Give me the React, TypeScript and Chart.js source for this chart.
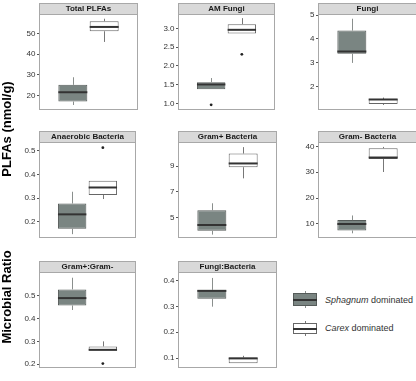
import { useEffect, useRef } from "react";
import { Chart, registerables } from "chart.js";

Chart.register(...registerables);

// ---- data -------------------------------------------------------------
const panelTitles = [
  "Total PLFAs",
  "AM Fungi",
  "Fungi",
  "Anaerobic Bacteria",
  "Gram+ Bacteria",
  "Gram- Bacteria",
  "Gram+:Gram-",
  "Fungi:Bacteria",
];

const groups = ["Sphagnum dominated", "Carex dominated"];

// five-number summaries, one value per panel
const sphagnumMin = [15.3, 1.38, 2.99, 0.147, 3.68, 6.4, 0.437, 0.299];
const sphagnumQ1 = [17.0, 1.38, 3.38, 0.17, 3.98, 7.5, 0.457, 0.33];
const sphagnumMedian = [21.5, 1.51, 3.47, 0.231, 4.43, 10.0, 0.489, 0.36];
const sphagnumQ3 = [25.1, 1.57, 4.35, 0.277, 5.57, 11.5, 0.527, 0.364];
const sphagnumMax = [28.8, 1.68, 4.85, 0.327, 6.12, 13.3, 0.578, 0.41];
const sphagnumOutliers: number[][] = [[], [0.97], [], [], [], [], [], []];

const carexMin = [46.0, 2.86, 1.22, 0.296, 8.06, 30.1, 0.26, 0.08];
const carexQ1 = [51.2, 2.86, 1.26, 0.313, 8.93, 35.1, 0.26, 0.08];
const carexMedian = [53.3, 2.96, 1.45, 0.345, 9.22, 35.7, 0.263, 0.099];
const carexQ3 = [56.1, 3.11, 1.47, 0.374, 9.99, 39.3, 0.278, 0.1025];
const carexMax = [57.3, 3.27, 1.53, 0.374, 10.49, 39.8, 0.3, 0.109];
const carexOutliers: number[][] = [[], [2.31], [], [0.514], [], [], [0.203], []];

const yTicks = [
  [20, 30, 40, 50],
  [1, 1.5, 2, 2.5, 3],
  [2, 3, 4, 5],
  [0.2, 0.3, 0.4, 0.5],
  [5, 7, 9],
  [10, 20, 30, 40],
  [0.2, 0.3, 0.4, 0.5],
  [0.1, 0.2, 0.3, 0.4],
];
const tickDecimals = [0, 1, 0, 1, 0, 0, 1, 1];
const yLimits = [
  [13.0, 59.6],
  [0.84, 3.38],
  [1.02, 5.05],
  [0.132, 0.538],
  [3.44, 10.89],
  [4.7, 41.7],
  [0.185, 0.603],
  [0.063, 0.433],
];

// ---- look -------------------------------------------------------------
const FONT = "'Liberation Sans', Arial, Helvetica, sans-serif";
const SPHAGNUM_FILL = "#7a8582";
const SPHAGNUM_LINE = "#555b59";
const SPHAGNUM_WHISKER = "#8a8f8d";
const CAREX_FILL = "#ffffff";
const CAREX_LINE = "#666666";
const CAREX_WHISKER = "#777777";
const MEDIAN_COLOR = "#333333";
const FRAME_COLOR = "#a8a8a8";
const STRIP_FILL = "#d9d9d9";

// ---- layout -----------------------------------------------------------
const COL_LEFT = [39, 178, 318];
const ROW_TOP = [3, 131, 261];
const PLOT_W = 99;
const PLOT_H = 100;
const STRIP_H = 11;
const AXIS_W = 32;

function Panel({ index }: { index: number }) {
  const ref = useRef<HTMLCanvasElement>(null);

  useEffect(() => {
    const canvas = ref.current;
    if (!canvas) return;

    const stats = [
      {
        min: sphagnumMin[index],
        q1: sphagnumQ1[index],
        med: sphagnumMedian[index],
        q3: sphagnumQ3[index],
        max: sphagnumMax[index],
        whisker: SPHAGNUM_WHISKER,
      },
      {
        min: carexMin[index],
        q1: carexQ1[index],
        med: carexMedian[index],
        q3: carexQ3[index],
        max: carexMax[index],
        whisker: CAREX_WHISKER,
      },
    ];

    const outlierPoints = [
      ...sphagnumOutliers[index].map((v) => ({ x: 0, y: v })),
      ...carexOutliers[index].map((v) => ({ x: 1, y: v })),
    ];

    const boxPlugin = {
      id: "boxWhiskers",
      beforeDraw(chart: any) {
        const { ctx, chartArea } = chart;
        ctx.save();
        ctx.fillStyle = STRIP_FILL;
        ctx.fillRect(chartArea.left, 0, chartArea.right - chartArea.left, chartArea.top);
        ctx.restore();
      },
      afterDatasetsDraw(chart: any) {
        const { ctx } = chart;
        const yScale = chart.scales.y;
        const meta = chart.getDatasetMeta(0);
        ctx.save();
        stats.forEach((s, i) => {
          const bar = meta.data[i];
          if (!bar) return;
          const { x, width } = bar.getProps(["x", "width"], true);
          const cx = Math.round(x) + 0.5;
          ctx.strokeStyle = s.whisker;
          ctx.lineWidth = 1;
          ctx.beginPath();
          ctx.moveTo(cx, yScale.getPixelForValue(s.q3));
          ctx.lineTo(cx, yScale.getPixelForValue(s.max));
          ctx.moveTo(cx, yScale.getPixelForValue(s.q1));
          ctx.lineTo(cx, yScale.getPixelForValue(s.min));
          ctx.stroke();
          ctx.strokeStyle = MEDIAN_COLOR;
          ctx.lineWidth = 2;
          const my = yScale.getPixelForValue(s.med);
          ctx.beginPath();
          ctx.moveTo(x - width / 2, my);
          ctx.lineTo(x + width / 2, my);
          ctx.stroke();
        });
        ctx.restore();
      },
      afterDraw(chart: any) {
        const { ctx, chartArea } = chart;
        const l = Math.round(chartArea.left) + 0.5;
        const r = Math.round(chartArea.right) - 0.5;
        const t = Math.round(chartArea.top) + 0.5;
        const b = Math.round(chartArea.bottom) - 0.5;
        ctx.save();
        ctx.strokeStyle = FRAME_COLOR;
        ctx.lineWidth = 1;
        ctx.strokeRect(l, 0.5, r - l, b - 0.5);
        ctx.beginPath();
        ctx.moveTo(l, t);
        ctx.lineTo(r, t);
        ctx.stroke();
        ctx.restore();
      },
    };

    const chart = new Chart(canvas, {
      type: "bar",
      data: {
        datasets: [
          {
            type: "bar",
            label: "box",
            data: groups.map((_, i) => ({ x: i, y: [stats[i].q1, stats[i].q3] })) as any,
            backgroundColor: [SPHAGNUM_FILL, CAREX_FILL],
            borderColor: [SPHAGNUM_LINE, CAREX_LINE],
            borderWidth: 1,
            borderSkipped: false,
            categoryPercentage: 1,
            barPercentage: 0.925,
            order: 2,
          },
          {
            type: "scatter",
            label: "outliers",
            data: outlierPoints,
            backgroundColor: "#222222",
            borderWidth: 0,
            pointRadius: 1.4,
            order: 1,
          } as any,
        ],
      },
      options: {
        responsive: false,
        animation: false,
        events: [],
        layout: { padding: { left: 0, right: 2, top: 0, bottom: 2 } },
        plugins: {
          legend: { display: false },
          tooltip: { enabled: false },
          title: {
            display: true,
            text: panelTitles[index],
            fullSize: false,
            color: "#1a1a1a",
            font: { family: FONT, size: 8, weight: "bold", lineHeight: 1.2 },
            padding: { top: 1, bottom: 0.4 },
          },
        },
        scales: {
          x: {
            type: "linear",
            display: false,
            min: -1.08,
            max: 2.08,
            offset: false,
          },
          y: {
            type: "linear",
            min: yLimits[index][0],
            max: yLimits[index][1],
            afterFit: (scale: any) => {
              scale.width = AXIS_W;
            },
            afterBuildTicks: (scale: any) => {
              scale.ticks = yTicks[index].map((v) => ({ value: v }));
            },
            grid: {
              display: true,
              drawOnChartArea: false,
              drawTicks: true,
              tickLength: 2,
              color: "#555555",
              lineWidth: 1,
            },
            border: { display: false },
            ticks: {
              color: "#333333",
              padding: 1.5,
              font: { family: FONT, size: 8 },
              callback: (v: any) => Number(v).toFixed(tickDecimals[index]),
            },
          },
        },
      },
      plugins: [boxPlugin],
    });

    return () => chart.destroy();
  }, [index]);

  const col = index % 3;
  const row = Math.floor(index / 3);
  const w = AXIS_W + PLOT_W + 2;
  const h = STRIP_H + PLOT_H + 2;
  return (
    <canvas
      ref={ref}
      width={w}
      height={h}
      style={{
        position: "absolute",
        left: COL_LEFT[col] - AXIS_W,
        top: ROW_TOP[row],
        width: w,
        height: h,
      }}
    />
  );
}

function AxisTitle({ text, cx, cy }: { text: string; cx: number; cy: number }) {
  return (
    <div
      style={{
        position: "absolute",
        left: cx,
        top: cy,
        transform: "translate(-50%, -50%) rotate(-90deg)",
        whiteSpace: "nowrap",
        fontFamily: FONT,
        fontWeight: "bold",
        fontSize: 13,
        color: "#000",
        lineHeight: 1,
      }}
    >
      {text}
    </div>
  );
}

function LegendKey({
  top,
  boxH,
  fill,
  line,
  whisker,
}: {
  top: number;
  boxH: number;
  fill: string;
  line: string;
  whisker: string;
}) {
  const total = boxH + 4;
  return (
    <div style={{ position: "absolute", left: 293, top: top, width: 24, height: total }}>
      <div
        style={{
          position: "absolute",
          left: 11.5,
          top: 0,
          width: 1,
          height: total,
          background: whisker,
        }}
      />
      <div
        style={{
          position: "absolute",
          left: 0,
          top: 2,
          width: 24,
          height: boxH,
          boxSizing: "border-box",
          background: fill,
          border: `1px solid ${line}`,
        }}
      />
      <div
        style={{
          position: "absolute",
          left: 0,
          top: 2 + boxH / 2 - 1,
          width: 24,
          height: 2,
          background: MEDIAN_COLOR,
        }}
      />
    </div>
  );
}

function LegendLabel({ top, species }: { top: number; species: string }) {
  return (
    <div
      style={{
        position: "absolute",
        left: 325,
        top: top,
        transform: "translateY(-50%)",
        fontFamily: FONT,
        fontSize: 9,
        color: "#333",
        whiteSpace: "nowrap",
        lineHeight: 1,
      }}
    >
      <i>{species}</i> dominated
    </div>
  );
}

export default function App() {
  return (
    <div
      style={{
        position: "absolute",
        left: 0,
        top: 0,
        width: 416,
        height: 381,
        overflow: "hidden",
        background: "#ffffff",
      }}
    >
      {panelTitles.map((_, i) => (
        <Panel key={i} index={i} />
      ))}
      <AxisTitle text="PLFAs (nmol/g)" cx={6} cy={129} />
      <AxisTitle text="Microbial Ratio" cx={6} cy={297} />
      <LegendKey top={291} boxH={13} fill={SPHAGNUM_FILL} line={SPHAGNUM_LINE} whisker={SPHAGNUM_WHISKER} />
      <LegendKey top={321} boxH={11} fill={CAREX_FILL} line={CAREX_LINE} whisker={CAREX_WHISKER} />
      <LegendLabel top={300} species="Sphagnum" />
      <LegendLabel top={328} species="Carex" />
    </div>
  );
}
